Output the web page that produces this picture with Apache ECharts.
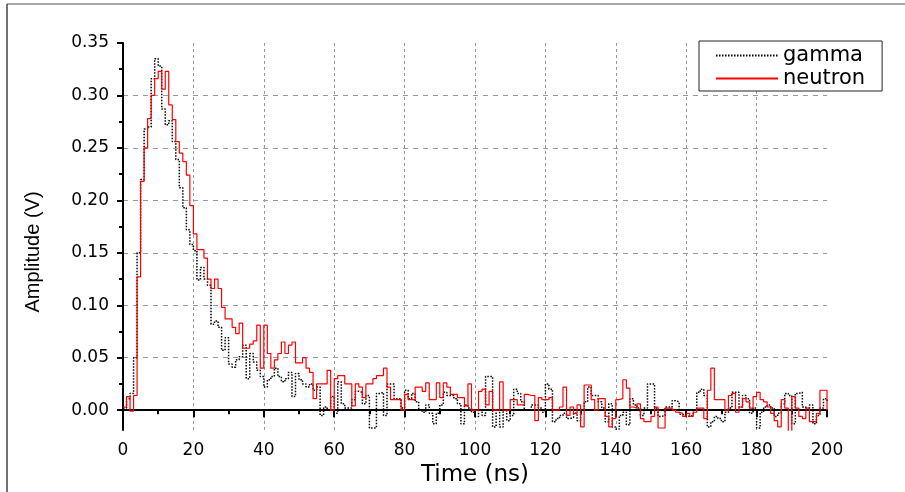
<!DOCTYPE html>
<html>
<head>
<meta charset="utf-8">
<script src="https://cdn.jsdelivr.net/npm/echarts@6/dist/echarts.min.js"></script>
<style>
  html, body { margin: 0; background: #fff; }
  #chart { width: 905px; height: 492px; }
</style>
</head>
<body>
<div id="chart"></div>
<script>
// sampling step of the digitiser, ns
const sampleNs = 1

// gamma pulse amplitude (V), one value per sample
const gamma = [
  0.002, 0.011, 0.016, 0.050, 0.150, 0.220, 0.268, 0.270, 0.316, 0.335,
  0.328, 0.287, 0.272, 0.276, 0.256, 0.239, 0.212, 0.193, 0.172, 0.158,
  0.152, 0.124, 0.136, 0.125, 0.119, 0.082, 0.085, 0.079, 0.057, 0.069,
  0.044, 0.041, 0.048, 0.051, 0.062, 0.030, 0.054, 0.046, 0.038, 0.032,
  0.022, 0.029, 0.032, 0.040, 0.032, 0.027, 0.030, 0.036, 0.013, 0.035,
  0.029, 0.025, 0.022, 0.025, 0.019, 0.022, -0.005, 0.003, 0.000, 0.013,
  -0.003, 0.027, 0.006, 0.002, 0.002, 0.010, 0.018, 0.017, 0.006, 0.014,
  -0.017, -0.017, 0.016, 0.017, -0.005, 0.025, 0.025, 0.011, 0.011, 0.002,
  0.019, 0.011, 0.016, 0.008, 0.000, -0.002, 0.005, -0.003, -0.013, -0.003,
  0.005, 0.017, 0.014, 0.014, 0.011, 0.006, -0.013, 0.005, 0.002, -0.002,
  -0.006, 0.000, -0.005, 0.032, 0.032, -0.016, 0.000, -0.016, 0.000, -0.010,
  -0.005, 0.020, 0.016, 0.008, 0.000, 0.000, 0.005, 0.005, 0.002, -0.002,
  0.025, 0.020, -0.011, -0.008, -0.005, -0.003, -0.008, -0.007, -0.003, -0.010,
  0.000, 0.008, 0.022, 0.014, 0.014, 0.008, 0.002, -0.011, 0.006, -0.016,
  -0.018, -0.005, -0.002, -0.014, 0.011, 0.005, 0.002, -0.005, 0.002, 0.025,
  0.025, 0.002, -0.006, -0.005, 0.003, 0.003, 0.009, 0.008, -0.004, -0.005,
  -0.006, -0.005, 0.000, 0.017, 0.020, 0.014, -0.016, -0.011, -0.006, -0.008,
  -0.011, -0.002, 0.002, 0.017, 0.017, 0.003, 0.014, 0.011, -0.003, 0.002,
  -0.017, -0.002, 0.003, 0.005, 0.002, -0.006, -0.003, 0.006, 0.016, 0.014,
  -0.013, 0.016, 0.017, 0.003, 0.000, 0.005, -0.013, -0.005, 0.002, 0.011,
  0.008
]

// neutron pulse amplitude (V)
const neutron = [
  0.003, 0.013, -0.001, 0.014, 0.127, 0.218, 0.250, 0.278, 0.300, 0.316,
  0.323, 0.306, 0.323, 0.291, 0.277, 0.256, 0.245, 0.237, 0.224, 0.195,
  0.168, 0.153, 0.153, 0.145, 0.125, 0.116, 0.125, 0.116, 0.098, 0.087,
  0.087, 0.079, 0.073, 0.083, 0.059, 0.059, 0.063, 0.066, 0.081, 0.040,
  0.081, 0.054, 0.040, 0.048, 0.054, 0.065, 0.054, 0.062, 0.065, 0.045,
  0.045, 0.050, 0.040, 0.036, 0.011, 0.025, 0.025, 0.025, 0.038, 0.000,
  0.030, 0.033, 0.033, 0.025, 0.025, 0.004, 0.025, 0.022, 0.012, 0.025,
  0.025, 0.030, 0.033, 0.033, 0.040, 0.022, 0.010, 0.010, 0.010, 0.000,
  0.015, 0.010, 0.010, 0.022, 0.022, 0.018, 0.026, 0.010, 0.010, 0.026,
  0.012, 0.026, 0.022, 0.015, 0.015, 0.012, 0.012, 0.004, 0.025, 0.000,
  0.000, 0.018, 0.020, 0.005, 0.018, 0.000, 0.000, 0.027, 0.000, 0.000,
  0.010, 0.010, 0.005, 0.005, 0.015, 0.014, 0.014, -0.010, 0.012, 0.010,
  0.010, 0.012, 0.000, 0.000, 0.003, 0.022, -0.005, 0.003, -0.003, 0.005,
  -0.016, 0.024, 0.024, 0.010, 0.000, 0.011, 0.011, -0.006, -0.016, -0.008,
  0.010, 0.011, 0.029, 0.021, 0.003, 0.002, 0.006, -0.008, -0.011, -0.011,
  -0.006, 0.003, -0.017, -0.017, 0.002, 0.002, 0.000, -0.002, -0.003, -0.006,
  -0.003, -0.006, -0.002, 0.002, 0.002, -0.008, 0.019, 0.040, 0.010, 0.010,
  0.010, 0.000, 0.014, 0.016, -0.002, 0.003, 0.011, 0.008, 0.002, 0.013,
  0.017, 0.010, 0.008, 0.003, -0.003, -0.010, -0.016, 0.010, 0.002, -0.022,
  0.013, 0.002, -0.006, -0.008, 0.002, -0.011, -0.011, -0.003, 0.019, 0.019,
  0.000
]

// y tick labels and minor ticks
const yTicks = [0, 0.05, 0.1, 0.15, 0.2, 0.25, 0.3, 0.35]
const yMinorTicks = [0.025, 0.075, 0.125, 0.175, 0.225, 0.275, 0.325]

const toPairs = (arr) => arr.map((v, i) => [i * sampleNs, v])

const chart = echarts.init(document.getElementById('chart'))

const black = '#000'
const gridLine = { color: '#999', width: 1 }
const labelFont = { fontFamily: 'DejaVu Sans', fontSize: 17, color: black }

const option = {
  animation: false,
  backgroundColor: '#fff',
  grid: { left: 123, right: 78, top: 43, bottom: 58 },
  legend: {
    orient: 'vertical',
    left: 699,
    top: 41,
    backgroundColor: '#fff',
    borderColor: '#222',
    borderWidth: 1,
    borderRadius: 0,
    padding: [3, 17, 1, 16],
    itemGap: 0,
    itemWidth: 62,
    itemHeight: 14,
    itemStyle: { opacity: 0 },
    textStyle: { fontFamily: 'DejaVu Sans', fontSize: 21, color: black, lineHeight: 23 },
    data: ['gamma', 'neutron']
  },
  xAxis: {
    type: 'value',
    min: 0,
    max: 200,
    interval: 20,
    name: 'Time (ns)',
    nameLocation: 'middle',
    nameGap: 30,
    nameTextStyle: { fontFamily: 'DejaVu Sans', fontSize: 23, color: black },
    axisLine: { lineStyle: { color: black, width: 2 } },
    axisTick: { length: 7, lineStyle: { color: black, width: 2 } },
    minorTick: { show: true, splitNumber: 2, length: 4, lineStyle: { color: black, width: 2 } },
    axisLabel: Object.assign({ margin: 12 }, labelFont),
    splitLine: {
      show: true,
      showMinLine: false,
      showMaxLine: false,
      lineStyle: Object.assign({ type: [3, 3] }, gridLine)
    }
  },
  yAxis: [
    {
      type: 'value',
      min: -0.019,
      max: 0.35,
      position: 'left',
      axisLine: { show: true, lineStyle: { color: black, width: 2 } },
      axisTick: { show: true, length: 6, customValues: yTicks, lineStyle: { color: black, width: 2 } },
      axisLabel: Object.assign({
        margin: 14,
        customValues: yTicks,
        formatter: (v) => v.toFixed(2)
      }, labelFont),
      splitLine: {
        show: true,
        showMaxLine: false,
        lineStyle: Object.assign({ type: [5, 5] }, gridLine)
      }
    },
    {
      // only carries the minor ticks
      type: 'value',
      min: -0.019,
      max: 0.35,
      position: 'left',
      offset: 0,
      axisLine: { show: false },
      axisTick: { show: true, length: 4, customValues: yMinorTicks, lineStyle: { color: black, width: 2 } },
      axisLabel: { show: false },
      splitLine: { show: false }
    }
  ],
  series: [
    {
      name: 'gamma',
      type: 'line',
      step: 'end',
      symbol: 'none',
      data: toPairs(gamma),
      itemStyle: { color: black },
      lineStyle: { color: black, width: 1.5, type: [1.5, 1.5] }
    },
    {
      name: 'neutron',
      type: 'line',
      step: 'end',
      symbol: 'none',
      data: toPairs(neutron),
      itemStyle: { color: '#ff0000' },
      lineStyle: { color: '#ff0000', width: 1.2 }
    }
  ],
  graphic: [
    // page frame
    { type: 'line', shape: { x1: 7, y1: 4, x2: 905, y2: 4 }, style: { stroke: '#888', lineWidth: 1.5 } },
    { type: 'line', shape: { x1: 7, y1: 4, x2: 7, y2: 492 }, style: { stroke: '#444', lineWidth: 1.5 } },
    {
      type: 'text',
      x: 33,
      y: 252,
      rotation: Math.PI / 2,
      style: {
        text: 'Amplitude (V)',
        fontFamily: 'Liberation Sans',
        fontSize: 20,
        fill: black,
        align: 'center',
        verticalAlign: 'middle'
      }
    }
  ]
}

chart.setOption(option)
</script>
</body>
</html>
